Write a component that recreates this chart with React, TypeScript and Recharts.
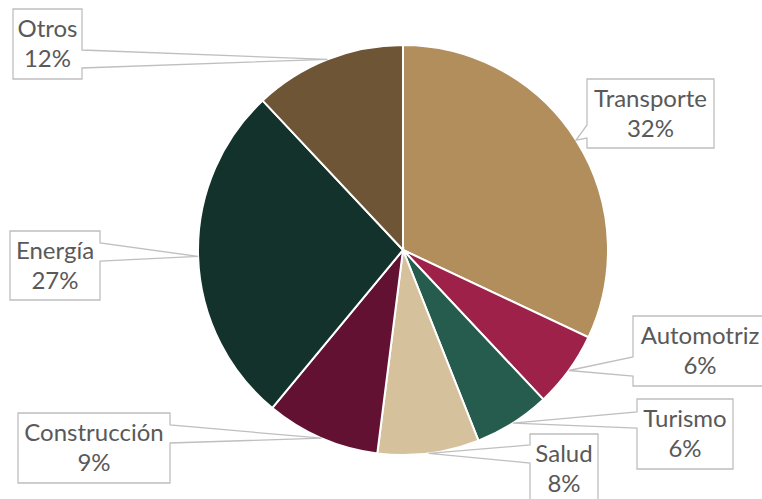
import { PieChart, Pie, Cell } from "recharts";

const sectors = ["Transporte", "Automotriz", "Turismo", "Salud", "Construcción", "Energía", "Otros"];
const shares = [32, 6, 6, 8, 9, 27, 12];
const sliceColors = ["#B18E5C", "#9D2148", "#255C4D", "#D5C19B", "#621132", "#13322C", "#6E5535"];

// callout boxes: top-left, size, side of the pointer notch and its span
const callouts = [
    { x: 587, y: 79, w: 127, h: 69, side: "left", n1: 125, n2: 138 },
    { x: 633, y: 316, w: 134, h: 70, side: "left", n1: 357, n2: 376 },
    { x: 637, y: 399, w: 96, h: 70, side: "left", n1: 412, n2: 428 },
    { x: 530, y: 434, w: 68, h: 70, side: "left", n1: 445, n2: 463 },
    { x: 18, y: 413, w: 152, h: 70, side: "right", n1: 425, n2: 443 },
    { x: 10, y: 231, w: 90, h: 69, side: "right", n1: 243, n2: 261 },
    { x: 13, y: 9, w: 69, h: 70, side: "right", n1: 50, n2: 68 },
];

const data = sectors.map((name, i) => ({ name, value: shares[i] }));

const RADIAN = Math.PI / 180;

function renderCallout(props: any) {
    const { cx, cy, midAngle, outerRadius, index, name, value } = props;
    const box = callouts[index];
    const tx = cx + outerRadius * Math.cos(-midAngle * RADIAN);
    const ty = cy + outerRadius * Math.sin(-midAngle * RADIAN);
    const { x, y, w, h, n1, n2 } = box;
    let d;
    if (box.side === "left") {
        d = `M${x},${y} L${x + w},${y} L${x + w},${y + h} L${x},${y + h} L${x},${n2} L${tx},${ty} L${x},${n1} Z`;
    } else {
        d = `M${x},${y} L${x + w},${y} L${x + w},${n1} L${tx},${ty} L${x + w},${n2} L${x + w},${y + h} L${x},${y + h} Z`;
    }
    const mx = x + w / 2;
    return (
        <g key={`callout-${index}`}>
            <path d={d} fill="#ffffff" stroke="#bfbfbf" strokeWidth={1.3} />
            <text x={mx} y={y + 28} textAnchor="middle" fill="#595959" fontSize={24} fontFamily="Lato">
                {name}
            </text>
            <text x={mx} y={y + 58} textAnchor="middle" fill="#595959" fontSize={24} fontFamily="Lato">
                {`${value}%`}
            </text>
        </g>
    );
}

export default function App() {
    return (
        <div style={{ width: 762, height: 499, background: "#ffffff" }}>
            <style>{`body{margin:0}`}</style>
            <PieChart width={762} height={499} margin={{ top: 0, right: 0, bottom: 0, left: 0 }}>
                <Pie
                    data={data}
                    dataKey="value"
                    nameKey="name"
                    cx={403}
                    cy={250}
                    outerRadius={205}
                    startAngle={90}
                    endAngle={-270}
                    stroke="#ffffff"
                    strokeWidth={2}
                    label={renderCallout}
                    labelLine={false}
                    isAnimationActive={false}
                >
                    {data.map((d, i) => (
                        <Cell key={d.name} fill={sliceColors[i]} />
                    ))}
                </Pie>
            </PieChart>
        </div>
    );
}
